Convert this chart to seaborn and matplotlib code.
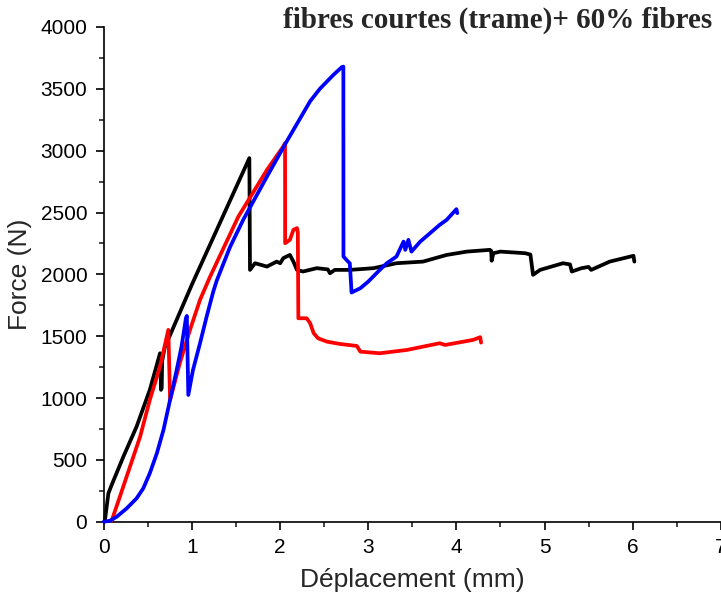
import numpy as np
import pandas as pd
import matplotlib
matplotlib.use("Agg")
import matplotlib.pyplot as plt
from matplotlib.ticker import MultipleLocator
import seaborn as sns

# Force-displacement curves for three specimens
black_x = [0.0, 0.01, 0.05, 0.087, 0.22, 0.37, 0.52, 0.636, 0.642, 0.647, 0.655, 0.66,
           0.69, 1.00, 1.65, 1.657, 1.714, 1.85, 1.96, 2.00, 2.035, 2.11,
           2.15, 2.19, 2.26, 2.415, 2.54, 2.565, 2.62, 2.79, 3.06, 3.32, 3.62, 3.89,
           4.12, 4.38, 4.395, 4.40, 4.42, 4.50, 4.78, 4.84, 4.87, 4.95, 5.21, 5.29,
           5.31, 5.42, 5.50, 5.53, 5.74, 6.01, 6.02]
black_y = [0, 8, 230, 297, 526, 769, 1066, 1362, 1300, 1066, 1080, 1300,
           1410, 1921, 2940, 2036, 2090, 2063, 2103, 2090, 2131, 2157,
           2103, 2036, 2023, 2050, 2040, 2009, 2036, 2036, 2050, 2090, 2103, 2157,
           2184, 2198, 2190, 2110, 2171, 2184, 2171, 2160, 1996, 2036, 2090, 2080,
           2023, 2050, 2060, 2036, 2103, 2150, 2103]

red_x = [0.087, 0.18, 0.295, 0.41, 0.52, 0.636, 0.73, 0.75, 0.86, 0.976, 1.09, 1.20,
         1.525, 1.85, 2.035, 2.055, 2.056, 2.11, 2.15, 2.19, 2.20, 2.206, 2.30, 2.34,
         2.38, 2.43, 2.53, 2.68, 2.87, 2.91, 3.13, 3.44, 3.81, 3.87, 4.19, 4.27, 4.28]
red_y = [8, 202, 445, 688, 985, 1254, 1551, 985, 1281, 1551, 1794, 1975,
         2467, 2845, 3034, 3061, 2252, 2279, 2360, 2374, 2340, 1645, 1645, 1605,
         1524, 1483, 1456, 1437, 1421, 1375, 1362, 1389, 1443, 1429, 1470, 1492, 1448]

blue_x = [0.0, 0.07, 0.144, 0.258, 0.37, 0.446, 0.52, 0.60, 0.675, 0.75, 0.825, 0.88,
          0.93, 0.94, 0.957, 1.01, 1.09, 1.165, 1.24, 1.28, 1.43, 1.58, 1.85, 2.07,
          2.34, 2.45, 2.60, 2.70, 2.717, 2.718, 2.77, 2.79, 2.81, 2.91, 3.00, 3.13,
          3.21, 3.32, 3.40, 3.42, 3.455, 3.49, 3.59, 3.81, 3.89, 4.00, 4.01]
blue_y = [0, 8, 40, 108, 189, 270, 392, 553, 742, 985, 1227, 1416,
          1645, 1664, 1025, 1227, 1443, 1658, 1860, 1950, 2220, 2441, 2791, 3070,
          3400, 3500, 3610, 3676, 3680, 2144, 2103, 2090, 1853, 1888, 1942, 2036,
          2090, 2144, 2265, 2198, 2279, 2184, 2265, 2400, 2441, 2527, 2495]

series = [(black_x, black_y, "#000000"),
          (red_x, red_y, "#FF0000"),
          (blue_x, blue_y, "#0000FF")]

sns.set_style("ticks")
plt.rcParams["font.family"] = ["Liberation Sans", "DejaVu Sans"]

fig = plt.figure(figsize=(7.21, 5.98), dpi=100)
ax = fig.add_axes([104 / 721, 1 - 521.7 / 598, 616.7 / 721, 494.7 / 598])

for xs, ys, col in series:
    df = pd.DataFrame({"x": xs, "y": ys})
    sns.lineplot(data=df, x="x", y="y", ax=ax, color=col, lw=2.7,
                 sort=False, estimator=None, clip_on=False, zorder=3)

ax.set_xlim(0, 7)
ax.set_ylim(0, 4000)
ax.xaxis.set_major_locator(MultipleLocator(1))
ax.xaxis.set_minor_locator(MultipleLocator(0.5))
ax.yaxis.set_major_locator(MultipleLocator(500))
ax.yaxis.set_minor_locator(MultipleLocator(250))
ax.tick_params(which="major", direction="out", length=6, width=1.2,
               labelsize=15, pad=6, colors="black")
ax.tick_params(which="minor", direction="out", length=3.5, width=1.2)
sns.despine(ax=ax)
for s in ("left", "bottom"):
    ax.spines[s].set_linewidth(1.2)
    ax.spines[s].set_color("black")

ax.set_xlabel("Déplacement (mm)", fontsize=19, labelpad=8)
ax.set_ylabel("Force (N)", fontsize=19, labelpad=6)

fig.text(283 / 721, 1 - 28 / 598, "fibres courtes (trame)+ 60% fibres",
         fontsize=21, fontweight="bold", family=["Liberation Serif", "DejaVu Serif"],
         ha="left", va="baseline")

fig.savefig("out.png", dpi=100)
